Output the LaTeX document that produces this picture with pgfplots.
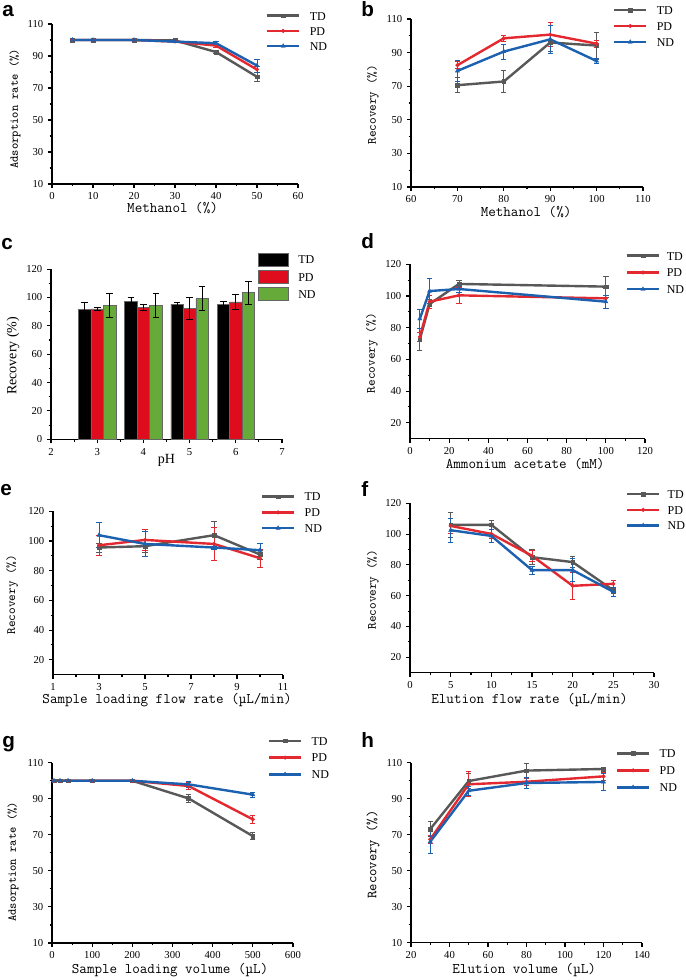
\documentclass[border=0pt]{standalone}
\usepackage{fontspec}
\setmainfont{Liberation Serif}
\newfontfamily\panelfont{Liberation Sans}
\usepackage{pgfplots}
\pgfplotsset{compat=1.18}

\definecolor{tdc}{RGB}{88,88,88}
\definecolor{pdc}{RGB}{228,40,48}
\definecolor{ndc}{RGB}{28,96,176}
\definecolor{barpd}{RGB}{222,12,28}
\definecolor{barnd}{RGB}{102,170,58}

\pgfplotsset{
  panel/.style={
    scale only axis, anchor=south west, clip=false,
    axis lines=left, axis line style={-, line width=1.1pt},
    every outer x axis line/.append style={-},
    every outer y axis line/.append style={-},
    tick align=outside, major tick length=3pt, minor tick length=1.8pt,
    every tick/.style={black, line width=0.8pt},
    minor tick num=1,
    tick label style={font=\fontsize{8}{8}\selectfont},
    /pgf/number format/assume math mode=true,
    label style={font=\fontsize{11}{11}\ttfamily},
    xlabel style={anchor=center},
    ylabel style={anchor=center, font=\fontsize{9.5}{10}\ttfamily},
    legend style={draw=none, fill=none, inner sep=0pt, outer sep=0pt,
      anchor=north west, font=\fontsize{9}{9}\selectfont, column sep=7pt,
      cells={anchor=west}, nodes={inner sep=0pt, text height=6.5pt, text depth=0pt}},
    legend image code/.code={\draw[mark repeat=2,mark phase=2,##1] plot coordinates {(0pt,0pt) (12pt,0pt) (24pt,0pt)};},
    error bars/y dir=both, error bars/y explicit,
    error bars/error bar style={line width=0.6pt},
    error bars/error mark options={rotate=90, mark size=2pt, line width=0.6pt},
  },
  td/.style={tdc, line width=1.8pt, mark=square*, mark size=1.4pt, mark options={solid, line width=0.3pt}},
  pd/.style={pdc, line width=1.8pt, mark=*, mark size=1.4pt, mark options={solid, line width=0.3pt}},
  nd/.style={ndc, line width=1.8pt, mark=triangle*, mark size=1.8pt, mark options={solid, line width=0.3pt}},
}

\begin{document}
\begin{tikzpicture}
\useasboundingbox (0,0) rectangle (513.75pt,-735pt);

\tikzset{plabel/.style={anchor=base west, inner sep=0pt, font=\panelfont\bfseries\fontsize{15.5}{16}\selectfont}}
\node[plabel] at (1.5pt,-12.75pt) {a};
\node[plabel] at (270.75pt,-12.75pt) {b};
\node[plabel] at (0.75pt,-187.5pt) {c};
\node[plabel] at (270.75pt,-186.75pt) {d};
\node[plabel] at (0pt,-371.25pt) {e};
\node[plabel] at (270.75pt,-372pt) {f};
\node[plabel] at (1.5pt,-560.25pt) {g};
\node[plabel] at (270.75pt,-560.25pt) {h};

% a
\begin{axis}[panel, at={(39pt,-138pt)}, width=184.5pt, height=120pt,
  xmin=0, xmax=60, ymin=10, ymax=110,
  xtick={0,10,...,60}, ytick={10,30,...,110},
  xlabel={Methanol (\%)}, ylabel={Adsorption rate (\%)},
  xlabel style={at={(axis description cs:0.49,-0.15)}},
  ylabel style={at={(axis description cs:-0.15,0.47)}, font=\fontsize{9}{9}\ttfamily},
  legend style={at={(axis description cs:0.870,1.079)}, row sep=4.9pt}]
\addplot[td] coordinates {(5,100) +- (0,0.5) (10,100) +- (0,0.5) (20,100) +- (0,0.5) (30,99.7) +- (0,0.8) (40,92.5) +- (0,1) (50,77) +- (0,3)};
\addplot[pd] coordinates {(5,100) +- (0,0.5) (10,100) +- (0,0.5) (20,100) +- (0,0.5) (30,99) +- (0,0.6) (40,96.5) +- (0,1) (50,81.5) +- (0,2)};
\addplot[nd] coordinates {(5,100) +- (0,0.5) (10,100) +- (0,0.5) (20,100) +- (0,0.5) (30,99) +- (0,0.6) (40,98) +- (0,1) (50,84) +- (0,4)};
\legend{TD,PD,ND}
\end{axis}

% b
\begin{axis}[panel, at={(308.25pt,-140.25pt)}, width=174pt, height=126pt,
  xmin=60, xmax=110, ymin=10, ymax=110,
  xtick={60,70,...,110}, ytick={10,30,...,110},
  xlabel={Methanol (\%)}, ylabel={Recovery (\%)},
  xlabel style={at={(axis description cs:0.496,-0.149)}},
  ylabel style={at={(axis description cs:-0.164,0.49)}},
  legend style={at={(axis description cs:0.871,1.079)}, row sep=5.5pt}]
\addplot[td] coordinates {(70,70.6) +- (0,4.5) (80,72.8) +- (0,6.7) (90,96) +- (0,5) (100,94.2) +- (0,8)};
\addplot[pd] coordinates {(70,82.5) +- (0,2) (80,98.5) +- (0,2) (90,100.7) +- (0,7) (100,95.3) +- (0,2)};
\addplot[nd] coordinates {(70,79.1) +- (0,6) (80,90.6) +- (0,4.5) (90,97.9) +- (0,8.5) (100,85) +- (0,1.5)};
\legend{TD,PD,ND}
\end{axis}

% c
\begin{axis}[panel, at={(38.25pt,-329.5pt)}, width=173.25pt, height=127.7pt,
  ybar, bar width=0.27,
  xmin=2, xmax=7, ymin=0, ymax=120,
  xtick={2,3,...,7}, ytick={0,20,...,120},
  xlabel={pH}, ylabel={Recovery (\%)},
  xlabel style={at={(axis description cs:0.50,-0.124)}, font=\fontsize{10.5}{11}\selectfont},
  ylabel style={at={(axis description cs:-0.164,0.49)}, font=\fontsize{10.5}{11}\selectfont},
  legend image code/.code={\draw[#1] (0pt,-5pt) rectangle (23pt,5pt);},
  legend style={at={(axis description cs:0.895,1.096)}, row sep=2.4pt},
  error bars/error bar style={black, line width=0.6pt},
  error bars/error mark options={black, rotate=90, mark size=2.5pt, line width=0.6pt}]
\addplot[fill=black, draw=black!60, bar shift=-0.27] coordinates {(3,91.8) +- (0,4.5) (4,97.2) +- (0,3) (5,95.3) +- (0,1) (6,94.9) +- (0,2)};
\addplot[fill=barpd, draw=black!60, bar shift=0] coordinates {(3,92) +- (0,1) (4,93) +- (0,2) (5,92.3) +- (0,7.5) (6,96.8) +- (0,5)};
\addplot[fill=barnd, draw=black!60, bar shift=0.27] coordinates {(3,94.2) +- (0,8.5) (4,94.2) +- (0,8.5) (5,99.3) +- (0,8.5) (6,103.3) +- (0,8)};
\legend{TD,PD,ND}
\end{axis}

% d
\begin{axis}[panel, at={(307.5pt,-329pt)}, width=176.25pt, height=130.8pt,
  xmin=0, xmax=120, ymin=10, ymax=120,
  xtick={0,20,...,120}, ytick={20,40,...,120},
  xlabel={Ammonium acetate (mM)}, ylabel={Recovery (\%)},
  xlabel style={at={(axis description cs:0.49,-0.145)}},
  ylabel style={at={(axis description cs:-0.162,0.49)}},
  legend style={at={(axis description cs:0.918,1.074)}, row sep=6.1pt, column sep=5pt}]
\addplot[td] coordinates {(5,72.5) +- (0,7) (10,94.9) +- (0,3) (25,107.6) +- (0,2.5) (100,105.9) +- (0,6.5)};
\addplot[pd] coordinates {(5,74.2) +- (0,3) (10,96.4) +- (0,4) (25,100.4) +- (0,5) (100,98.5) +- (0,6.5)};
\addplot[nd] coordinates {(5,85.6) +- (0,6) (10,103.1) +- (0,8) (25,104.4) +- (0,2) (100,96.4) +- (0,4)};
\legend{TD,PD,ND}
\end{axis}

% e
\begin{axis}[panel, at={(39.75pt,-506pt)}, width=172.5pt, height=122.55pt,
  xmin=1, xmax=11, ymin=10, ymax=120,
  xtick={1,3,...,11}, ytick={20,40,...,120},
  xlabel={Sample loading flow rate (µL/min)}, ylabel={Recovery (\%)},
  xlabel style={at={(axis description cs:0.496,-0.155)}},
  ylabel style={at={(axis description cs:-0.178,0.49)}},
  legend style={at={(axis description cs:0.904,1.116)}, row sep=5.3pt}]
\addplot[td] coordinates {(3,95.6) +- (0,3) (5,96.5) +- (0,4) (8,103.9) +- (0,9) (10,90.9) +- (0,3)};
\addplot[pd] coordinates {(3,97.1) +- (0,6.5) (5,100.7) +- (0,7) (8,98) +- (0,11) (10,88.4) +- (0,6)};
\addplot[nd] coordinates {(3,103.9) +- (0,8.5) (5,98) +- (0,8.5) (8,95.6) +- (0,1) (10,93.8) +- (0,4.5)};
\legend{TD,PD,ND}
\end{axis}

% f
\begin{axis}[panel, at={(307.5pt,-504.5pt)}, width=183pt, height=127.05pt,
  xmin=0, xmax=30, ymin=10, ymax=120,
  xtick={0,5,...,30}, ytick={20,40,...,120},
  xlabel={Elution flow rate (µL/min)}, ylabel={Recovery (\%)},
  xlabel style={at={(axis description cs:0.49,-0.161)}},
  ylabel style={at={(axis description cs:-0.152,0.49)}},
  legend style={at={(axis description cs:0.885,1.080)}, row sep=5.3pt, column sep=5.5pt}]
\addplot[td] coordinates {(5,106) +- (0,8) (10,106) +- (0,3) (15,85) +- (0,5) (20,81.8) +- (0,3.5) (25,63.5) +- (0,2)};
\addplot[pd] coordinates {(5,105.3) +- (0,5) (10,100.1) +- (0,3) (15,85.9) +- (0,3.5) (20,66.4) +- (0,8.5) (25,67.7) +- (0,2.5)};
\addplot[nd] coordinates {(5,102.5) +- (0,8) (10,98.8) +- (0,4.5) (15,76.6) +- (0,2.5) (20,76.6) +- (0,7.5) (25,62.5) +- (0,3)};
\legend{TD,PD,ND}
\end{axis}

% g
\begin{axis}[panel, at={(39pt,-707.25pt)}, width=180.75pt, height=135.2pt,
  xmin=0, xmax=600, ymin=10, ymax=110,
  xtick={0,100,...,600}, ytick={10,30,...,110},
  xlabel={Sample loading volume (µL)}, ylabel={Adsorption rate (\%)},
  xlabel style={at={(axis description cs:0.49,-0.150)}},
  ylabel style={at={(axis description cs:-0.162,0.45)}, font=\fontsize{9}{9}\ttfamily},
  legend style={at={(axis description cs:0.896,1.146)}, row sep=6.1pt}]
\addplot[td] coordinates {(5,100) +- (0,0.5) (20,100) +- (0,0.5) (40,100) +- (0,0.5) (100,100) +- (0,0.5) (200,100) +- (0,0.5) (340,90.2) +- (0,2) (500,69.3) +- (0,2)};
\addplot[pd] coordinates {(5,100) +- (0,0.5) (20,100) +- (0,0.5) (40,100) +- (0,0.5) (100,100) +- (0,0.5) (200,100) +- (0,0.5) (340,97.1) +- (0,2) (500,78.6) +- (0,2)};
\addplot[nd] coordinates {(5,100) +- (0,0.5) (20,100) +- (0,0.5) (40,100) +- (0,0.5) (100,100) +- (0,0.5) (200,100) +- (0,0.5) (340,98) +- (0,1.5) (500,92.3) +- (0,1.5)};
\legend{TD,PD,ND}
\end{axis}

% h
\begin{axis}[panel, at={(308.25pt,-707pt)}, width=173.25pt, height=135pt,
  xmin=20, xmax=140, ymin=10, ymax=110,
  xtick={20,40,...,140}, ytick={10,30,...,110},
  xlabel={Elution volume (µL)}, ylabel={Recovery (\%)},
  xlabel style={at={(axis description cs:0.49,-0.150)}},
  ylabel style={at={(axis description cs:-0.164,0.49)}, font=\fontsize{10.5}{11}\ttfamily},
  legend style={at={(axis description cs:0.887,1.076)}, row sep=6.25pt}]
\addplot[td] coordinates {(30,73.1) +- (0,4) (50,99.8) +- (0,4) (80,105.6) +- (0,4) (120,106.5) +- (0,1)};
\addplot[pd] coordinates {(30,67.4) +- (0,2) (50,98) +- (0,7) (80,99.4) +- (0,2) (120,102.4) +- (0,2)};
\addplot[nd] coordinates {(30,66.1) +- (0,6.5) (50,94.4) +- (0,2.5) (80,98.7) +- (0,3) (120,99.3) +- (0,4.5)};
\legend{TD,PD,ND}
\end{axis}
\end{tikzpicture}
\end{document}
